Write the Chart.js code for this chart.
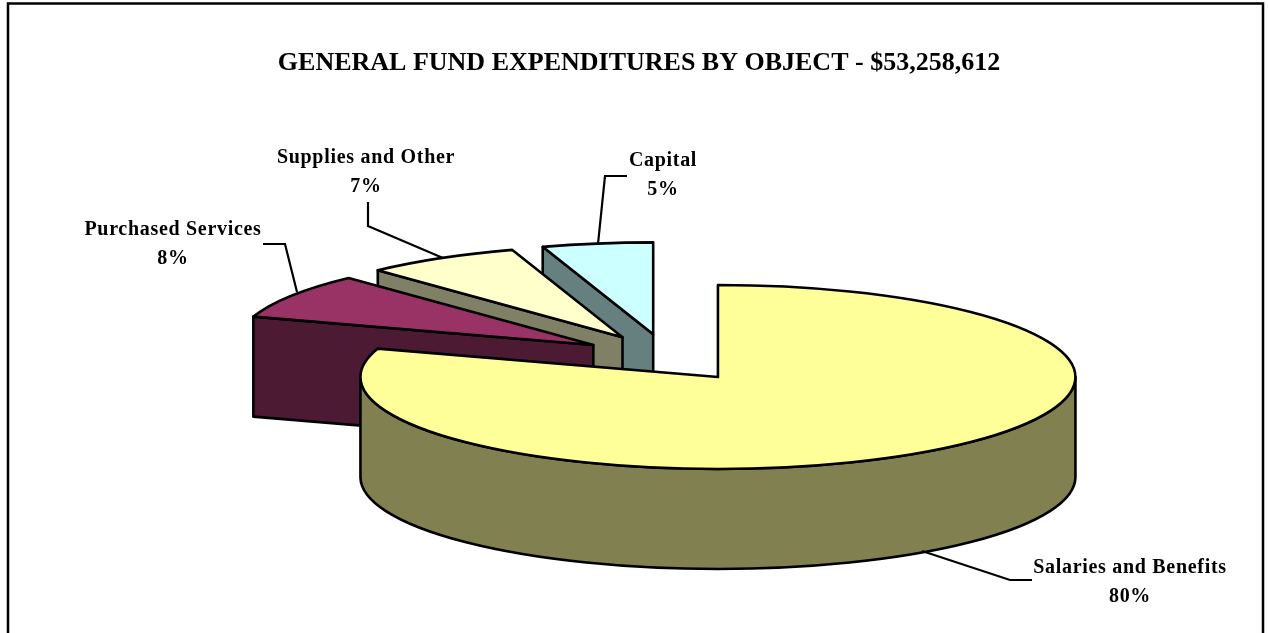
<!DOCTYPE html>
<html><head><meta charset="utf-8">
<style>html,body{margin:0;padding:0;background:#fff;overflow:hidden}canvas{display:block}</style>
<script src="https://cdn.jsdelivr.net/npm/chart.js@4"></script>
</head><body><canvas id="c" width="1268" height="633"></canvas>
<script>
const categories = ["Salaries and Benefits","Purchased Services","Supplies and Other","Capital"];
const percentages = [80,8,7,5];
const topColors = ["#FFFF99","#993366","#FFFFCC","#CCFFFF"];
const wallColors = ["#808050","#4D1A33","#808066","#668080"];
const chartTitle = "GENERAL FUND EXPENDITURES BY OBJECT - $53,258,612";

const labelAnchors = [
  {x:1130,y:568,leader:[[1032,580],[1010,580],[922,551]]},
  {x:173,y:230,leader:[[263,244],[285,244],[297,292]]},
  {x:366,y:158,leader:[[368,202],[368,226],[443,258]]},
  {x:663,y:161,leader:[[627,176],[605,176],[598,244]]}
];

const pie3d = {
  id:'pie3d',
  beforeDatasetDraw(chart,args,o){
    const ctx=chart.ctx, arcs=chart.getDatasetMeta(0).data;
    for(let i=arcs.length-1;i>=0;i--){
      const el=arcs[i];
      const a=el.startAngle,b=el.endAngle,h=(a+b)/2;
      const cx=o.cx+Math.cos(h)*o.explodeX, cy=o.cy+Math.sin(h)*o.explodeY;
      const px=t=>cx+Math.cos(t)*o.rx, py=t=>cy+Math.sin(t)*o.ry;
      ctx.save();
      ctx.lineWidth=o.lineWidth; ctx.strokeStyle='#000'; ctx.lineJoin='round';
      const paint=(fill)=>{ctx.fillStyle=fill;ctx.fill();ctx.stroke();};
      const radial=(t)=>{
        ctx.beginPath();ctx.moveTo(cx,cy);ctx.lineTo(px(t),py(t));
        ctx.lineTo(px(t),py(t)+o.depth);ctx.lineTo(cx,cy+o.depth);ctx.closePath();
        paint(wallColors[i]);
      };
      if(Math.cos(a)<0) radial(a);
      if(Math.cos(b)>0) radial(b);
      const s=Math.max(a,0), e=Math.min(b,Math.PI);
      if(e>s){
        ctx.beginPath();
        ctx.ellipse(cx,cy,o.rx,o.ry,0,s,e,false);
        ctx.ellipse(cx,cy+o.depth,o.rx,o.ry,0,e,s,true);
        ctx.closePath();
        paint(wallColors[i]);
      }
      ctx.beginPath();ctx.moveTo(cx,cy);
      ctx.ellipse(cx,cy,o.rx,o.ry,0,a,b,false);
      ctx.closePath();
      paint(topColors[i]);
      ctx.restore();
    }
    return false;
  },
  afterDraw(chart,args,o){
    const ctx=chart.ctx;
    ctx.save();
    ctx.strokeStyle='#000';ctx.lineWidth=2.5;
    ctx.strokeRect(8,3.5,1255,660);
    ctx.lineWidth=2.2;ctx.lineJoin='miter';
    ctx.fillStyle='#000';ctx.textAlign='center';ctx.textBaseline='middle';
    ctx.font='bold '+o.labelSize+'px "Liberation Serif"';
    ctx.letterSpacing=o.labelSpacing;
    categories.forEach((name,i)=>{
      const l=labelAnchors[i];
      ctx.beginPath();
      l.leader.forEach((p,j)=>j?ctx.lineTo(p[0],p[1]):ctx.moveTo(p[0],p[1]));
      ctx.stroke();
      ctx.fillText(name,l.x,l.y);
      ctx.fillText(percentages[i]+'%',l.x,l.y+o.lineGap);
    });
    ctx.restore();
  }
};

new Chart(document.getElementById('c'),{
  type:'pie',
  data:{labels:categories,datasets:[{data:percentages,backgroundColor:topColors,borderColor:'#000',borderWidth:2}]},
  options:{
    responsive:false,animation:false,
    layout:{padding:{left:10,right:0,top:0,bottom:0}},
    plugins:{
      legend:{display:false},tooltip:{enabled:false},
      title:{display:true,text:chartTitle,color:'#000',
        font:{family:'"Liberation Serif"',size:26,weight:'bold'},
        padding:{top:48,bottom:20}},
      pie3d:{cx:666.8,cy:357.8,rx:357.5,ry:92,depth:100,explodeX:87,explodeY:23.76,lineWidth:2.6,labelSize:20,labelSpacing:'0.7px',lineGap:28.5}
    }
  },
  plugins:[pie3d]
});
</script></body></html>
